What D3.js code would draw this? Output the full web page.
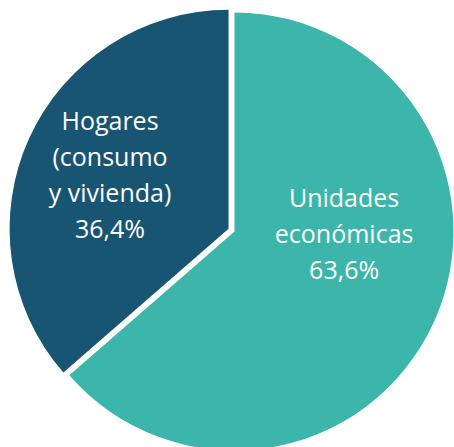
<!DOCTYPE html>
<html>
<head>
<meta charset="utf-8">
<script src="https://cdn.jsdelivr.net/npm/d3@7"></script>
<style>
	body { margin: 0; background: #fff; }
	svg { display: block; }
	text { font-family: 'Open Sans', sans-serif; }
</style>
</head>
<body>
<div id="chart"></div>
<script>

// data
const categories = ['Unidades económicas', 'Hogares (consumo y vivienda)'];
const values = [63.6, 36.4];
const labelLines = [
	['Unidades', 'económicas', '63,6%'],
	['Hogares', '(consumo', 'y vivienda)', '36,4%']
];
const colors = ['#3cb6aa', '#185573'];

const width = 454;
const height = 447;
const cx = 234.5;
const cy = 231.5;
const radius = 219;
const explode = [0, 6.5];

let svg = d3.select('#chart')
	.append('svg')
		.attr('width', width)
		.attr('height', height);

let g = svg.append('g')
	.attr('transform', `translate(${cx}, ${cy})`);

let pie = d3.pie()
	.sort(null)
	.value(function(d) { return d; });

let arcs = pie(values);

let arc = d3.arc()
	.innerRadius(0)
	.outerRadius(radius);

// where the text block sits, as a fraction of the radius
let labelArc = [
	d3.arc().innerRadius(radius * 1.1).outerRadius(radius * 1.1),
	d3.arc().innerRadius(radius * 1.19).outerRadius(radius * 1.19)
];

let slices = g.selectAll('g.slice')
	.data(arcs)
	.enter().append('g')
		.attr('class', 'slice')
		.attr('transform', function(d, i) {
			let mid = (d.startAngle + d.endAngle) / 2;
			return `translate(${Math.sin(mid) * explode[i]}, ${-Math.cos(mid) * explode[i]})`;
		});

slices.append('path')
	.attr('d', arc)
	.attr('fill', function(d, i) { return colors[i]; });

let lineHeight = 36;
let nudge = [-47, 0];

slices.each(function(d, i) {
	let c = labelArc[i].centroid(d);
	let lines = labelLines[i];
	let top = c[1] / 2 + nudge[i] - (lines.length - 1) * lineHeight / 2;
	let t = d3.select(this).append('text')
		.attr('text-anchor', 'middle')
		.attr('fill', '#fff')
		.style('font-size', '25px');
	lines.forEach(function(l, k) {
		t.append('tspan')
			.attr('x', c[0] / 2)
			.attr('y', top + k * lineHeight)
			.attr('dy', '0.35em')
			.text(l);
	});
});

</script>
</body>
</html>
